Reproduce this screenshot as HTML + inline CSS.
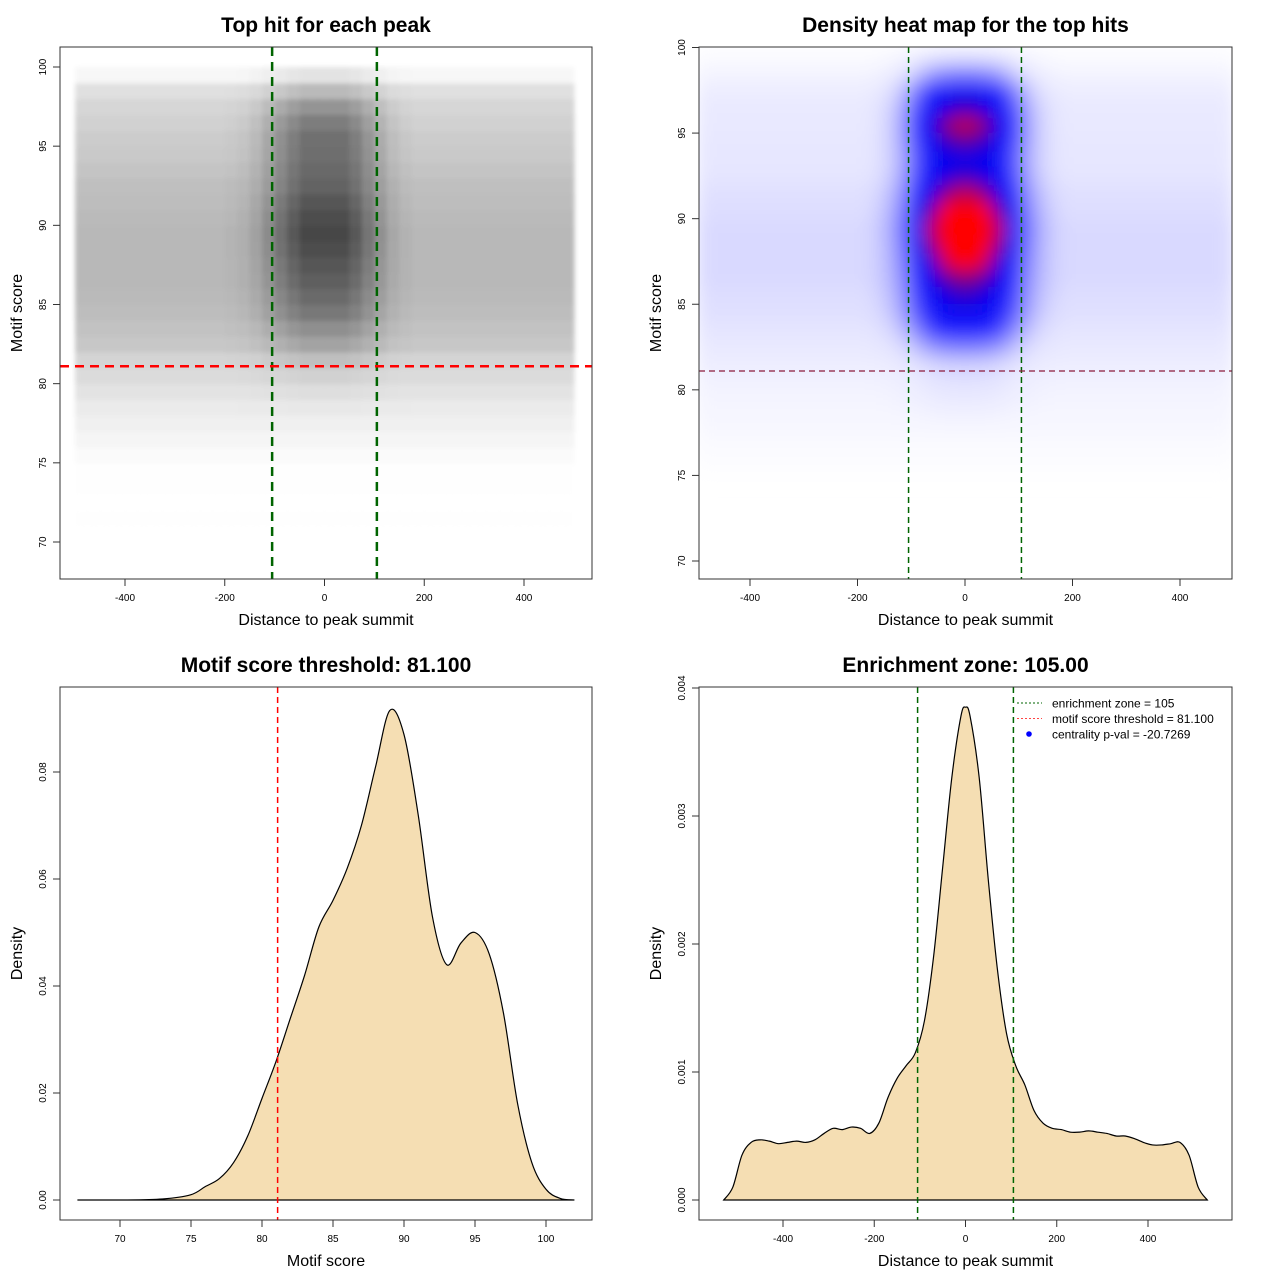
<!DOCTYPE html>
<html><head><meta charset="utf-8">
<style>
html,body{margin:0;padding:0;background:#fff;}
svg{display:block;font-family:"Liberation Sans",Arial,sans-serif;}
</style></head>
<body>
<svg id="root" width="1280" height="1280" viewBox="0 0 1280 1280">
<defs>
<filter id="blur" x="-10%" y="-10%" width="120%" height="120%"><feGaussianBlur stdDeviation="9"/></filter>
<filter id="blur1" x="-5%" y="-5%" width="110%" height="110%"><feGaussianBlur stdDeviation="2.5"/></filter>
<clipPath id="clip2"><rect x="699" y="47" width="533" height="532"/></clipPath>
<clipPath id="clip1"><rect x="60" y="47" width="532" height="532"/></clipPath>
</defs>
</svg>
<script>
// ---------- data ----------
var scoreBins = [70,71,72,73,74,75,76,77,78,79,80,81,82,83,84,85,86,87,88,89,90,91,92,93,94,95,96,97,98,99];
var scatterBg = [0,0.003,0,0.003,0.005,0.02,0.04,0.06,0.08,0.11,0.14,0.17,0.22,0.24,0.26,0.27,0.28,0.28,0.28,0.28,0.27,0.26,0.25,0.23,0.21,0.2,0.18,0.16,0.12,0.03];
var scatterCenter = [0,0,0,0,0,0,0,0,0.01,0.02,0.04,0.08,0.14,0.2,0.27,0.31,0.35,0.38,0.42,0.44,0.43,0.4,0.36,0.36,0.36,0.36,0.33,0.26,0.15,0.08];
var distBins = [-487.5,-462.5,-437.5,-412.5,-387.5,-362.5,-337.5,-312.5,-287.5,-262.5,-237.5,-212.5,-187.5,-162.5,-137.5,-112.5,-87.5,-62.5,-37.5,-12.5,12.5,37.5,62.5,87.5,112.5,137.5,162.5,187.5,212.5,237.5,262.5,287.5,312.5,337.5,362.5,387.5,412.5,437.5,462.5,487.5];
var scatterProfile = [0,0,0,0,0,0,0,0,0,0,0,0,0.03,0.08,0.2,0.4,0.65,0.85,1,1,1,1,0.85,0.6,0.35,0.15,0.05,0,0,0,0,0,0,0,0,0,0,0,0,0];
var heatBg = [0,0,0,0,0.005,0.01,0.02,0.03,0.04,0.05,0.06,0.08,0.1,0.12,0.14,0.15,0.16,0.16,0.16,0.16,0.15,0.14,0.12,0.11,0.11,0.1,0.1,0.08,0.05,0.02];
var heatCenter = [0,0,0,0,0,0,0,0,0.02,0.05,0.07,0.1,0.25,0.45,0.62,0.7,0.76,0.85,0.95,1.0,0.93,0.82,0.74,0.7,0.78,0.86,0.76,0.6,0.3,0.1];
var heatProfile = [0,0,0,0,0,0,0,0,0,0,0,0,0,0.03,0.1,0.25,0.5,0.8,0.95,1,1,0.95,0.8,0.5,0.25,0.1,0.03,0,0,0,0,0,0,0,0,0,0,0,0,0];
var scoreX = [67,70,73,75,76,77,78,79,80,81,82,83,84,85,86,87,88,89,90,91,92,93,94,95,96,97,98,99,100,101,102];
var scoreDens = [0,0,0.0002,0.001,0.0025,0.004,0.007,0.012,0.019,0.026,0.034,0.042,0.051,0.056,0.062,0.07,0.081,0.0915,0.087,0.072,0.053,0.044,0.048,0.05,0.046,0.035,0.018,0.007,0.002,0.0003,0];
var distX = [-530,-510,-490,-470,-450,-430,-410,-390,-370,-350,-330,-310,-290,-270,-250,-230,-210,-190,-170,-150,-130,-110,-90,-70,-50,-30,-10,0,10,30,50,70,90,110,130,150,170,190,210,230,250,270,290,310,330,350,370,390,410,430,450,470,490,510,530];
var distDens = [0,0.1,0.35,0.45,0.47,0.46,0.44,0.45,0.46,0.45,0.47,0.52,0.56,0.55,0.57,0.56,0.52,0.6,0.8,0.95,1.05,1.15,1.4,1.9,2.6,3.3,3.78,3.85,3.78,3.3,2.5,1.8,1.3,1.05,0.9,0.7,0.6,0.56,0.55,0.53,0.53,0.54,0.53,0.52,0.5,0.5,0.48,0.45,0.43,0.43,0.44,0.45,0.35,0.1,0];
var distTicks = [-400,-200,0,200,400];
var scoreTicks = [70,75,80,85,90,95,100];
var dens3Ticks = [0,0.02,0.04,0.06,0.08];
var dens3Labels = ["0.00","0.02","0.04","0.06","0.08"];
var dens4Ticks = [0,0.001,0.002,0.003,0.004];
var dens4Labels = ["0.000","0.001","0.002","0.003","0.004"];
var scoreThreshold = 81.1;
var enrichZone = 105;

var NS = "http://www.w3.org/2000/svg";
var root = document.getElementById('root');
function mk(tag, attrs, parent, txt){
  var e = document.createElementNS(NS, tag);
  for (var k in attrs) e.setAttribute(k, attrs[k]);
  if (txt !== undefined) e.textContent = txt;
  (parent || root).appendChild(e);
  return e;
}
function lin(d0,d1,r0,r1){ return function(v){ return r0 + (v-d0)/(d1-d0)*(r1-r0); }; }

function axes(g, box, xs, ys, xt, xl, yt, yl, xtitle, ytitle, title){
  var t = mk('text',{x:(box.x0+box.x1)/2,y:box.y0-15,'text-anchor':'middle','font-size':'21','font-weight':'bold'},g,title);
   
  var r = mk('rect',{x:box.x0,y:box.y0,width:box.x1-box.x0,height:box.y1-box.y0,fill:'none',stroke:'#333','stroke-width':1},g);
   
  for (var i=0;i<xt.length;i++){
    var px = xs(xt[i]);
    mk('line',{x1:px,x2:px,y1:box.y1,y2:box.y1+7,stroke:'#333'},g);
    var tl = mk('text',{x:px,y:box.y1+22,'text-anchor':'middle','font-size':'10'},g,xl[i]);
     
  }
  for (var j=0;j<yt.length;j++){
    var py = ys(yt[j]);
    mk('line',{x1:box.x0,x2:box.x0-7,y1:py,y2:py,stroke:'#333'},g);
    var yl2 = mk('text',{x:box.x0-14,y:py,'text-anchor':'middle','font-size':'10',transform:'rotate(-90 '+(box.x0-14)+' '+py+')'},g,yl[j]);
     
  }
  var xa = mk('text',{x:(box.x0+box.x1)/2,y:box.y1+46,'text-anchor':'middle','font-size':'16'},g,xtitle);
   
  var yx = box.x0-38, yy=(box.y0+box.y1)/2;
  var ya = mk('text',{x:yx,y:yy,'text-anchor':'middle','font-size':'16',transform:'rotate(-90 '+yx+' '+yy+')'},g,ytitle);
   
}
function strs(a){ return a.map(String); }

// ---------- Panel 1: scatter ----------
(function(){
  var g = mk('g',{});  
  var box={x0:60,x1:592,y0:47,y1:579};
  var xs = lin(-400,400,125,524), ys = lin(70,100,542,67);
  var cl = mk('g',{'clip-path':'url(#clip1)'},g);
  var pts = mk('g',{filter:'url(#blur1)'},cl);
   
  for (var i=0;i<scoreBins.length;i++){
    for (var j=0;j<distBins.length;j++){
      var v = scatterBg[i] + scatterCenter[i]*scatterProfile[j];
      if (v<=0) continue;
      var x0 = xs(distBins[j]-12.5), x1 = xs(distBins[j]+12.5);
      var y0 = ys(scoreBins[i]+1), y1 = ys(scoreBins[i]);
      var gray = Math.round(255*(1-Math.min(0.8,v)));
      var c = mk('rect',{x:x0,y:y0,width:x1-x0+0.6,height:y1-y0+0.6,fill:'rgb('+gray+','+gray+','+gray+')'},pts);
       
    }
  }
  [-enrichZone,enrichZone].forEach(function(v){
    var l = mk('line',{x1:xs(v),x2:xs(v),y1:box.y0,y2:box.y1,stroke:'#006400','stroke-width':2.5,'stroke-dasharray':'9 6'},g);
     
  });
  var h = mk('line',{x1:box.x0,x2:box.x1,y1:ys(scoreThreshold),y2:ys(scoreThreshold),stroke:'#ff0000','stroke-width':2.5,'stroke-dasharray':'9 6'},g);
   
  axes(g,box,xs,ys,distTicks,strs(distTicks),scoreTicks,strs(scoreTicks),'Distance to peak summit','Motif score','Top hit for each peak');
})();

// ---------- Panel 2: heatmap ----------
(function(){
  var g = mk('g',{});  
  var box={x0:699,x1:1232,y0:47,y1:579};
  var xs = lin(-400,400,750,1180), ys = lin(70,100,561,47.5);
  function col(v){
    var stops=[[0,[255,255,255]],[0.15,[222,222,255]],[0.55,[30,30,255]],[0.82,[0,0,240]],[0.9,[90,0,150]],[1,[255,0,0]]];
    v=Math.max(0,Math.min(1,v));
    for (var k=1;k<stops.length;k++){
      if (v<=stops[k][0]){
        var t=(v-stops[k-1][0])/(stops[k][0]-stops[k-1][0]);
        var a=stops[k-1][1], b=stops[k][1];
        return 'rgb('+Math.round(a[0]+(b[0]-a[0])*t)+','+Math.round(a[1]+(b[1]-a[1])*t)+','+Math.round(a[2]+(b[2]-a[2])*t)+')';
      }
    }
    return 'rgb(255,0,0)';
  }
  var cl = mk('g',{'clip-path':'url(#clip2)'},g);
  var hm = mk('g',{filter:'url(#blur)'},cl);
   
  for (var i=0;i<scoreBins.length;i++){
    for (var j=0;j<distBins.length;j++){
      var v = heatBg[i] + heatCenter[i]*heatProfile[j];
      if (v<=0.005) continue;
      var x0 = xs(distBins[j]-12.5), x1 = xs(distBins[j]+12.5);
      var y0 = ys(scoreBins[i]+1), y1 = ys(scoreBins[i]);
      var c = mk('rect',{x:x0,y:y0,width:x1-x0+0.5,height:y1-y0+0.5,fill:col(v)},hm);
       
    }
  }
  [-enrichZone,enrichZone].forEach(function(v){
    var l = mk('line',{x1:xs(v),x2:xs(v),y1:box.y0,y2:box.y1,stroke:'#006400','stroke-width':1.5,'stroke-dasharray':'6 4'},g);
     
  });
  var h = mk('line',{x1:box.x0,x2:box.x1,y1:ys(scoreThreshold),y2:ys(scoreThreshold),stroke:'#8b1a3a','stroke-width':1.2,'stroke-dasharray':'6 4'},g);
   
  axes(g,box,xs,ys,distTicks,strs(distTicks),scoreTicks,strs(scoreTicks),'Distance to peak summit','Motif score','Density heat map for the top hits');
})();

function curvePath(xs, ys, X, Y){
  var p = 'M'+xs(X[0])+','+ys(Y[0]);
  for (var i=0;i<X.length-1;i++){
    var x0=xs(X[Math.max(0,i-1)]),y0=ys(Y[Math.max(0,i-1)]);
    var x1=xs(X[i]),y1=ys(Y[i]),x2=xs(X[i+1]),y2=ys(Y[i+1]);
    var x3=xs(X[Math.min(X.length-1,i+2)]),y3=ys(Y[Math.min(X.length-1,i+2)]);
    p+=' C'+(x1+(x2-x0)/6)+','+(y1+(y2-y0)/6)+' '+(x2-(x3-x1)/6)+','+(y2-(y3-y1)/6)+' '+x2+','+y2;
  }
  return p;
}

// ---------- Panel 3: score density ----------
(function(){
  var g = mk('g',{});  
  var box={x0:60,x1:592,y0:687,y1:1220};
  var xs = lin(70,100,120,546), ys = lin(0,0.08,1200,772);
  var d = curvePath(xs,ys,scoreX,scoreDens);
  var f = mk('path',{d:d+' Z',fill:'#F5DEB3',stroke:'#000','stroke-width':1.2},g);
   
  var l = mk('line',{x1:xs(scoreThreshold),x2:xs(scoreThreshold),y1:box.y0,y2:box.y1,stroke:'#ff0000','stroke-width':1.5,'stroke-dasharray':'6 4'},g);
   
  var st=[70,75,80,85,90,95,100];
  axes(g,box,xs,ys,st,strs(st),dens3Ticks,dens3Labels,'Motif score','Density','Motif score threshold: 81.100');
})();

// ---------- Panel 4: distance density ----------
(function(){
  var g = mk('g',{});  
  var box={x0:699,x1:1232,y0:687,y1:1220};
  var xs = lin(-400,400,783,1148), ys = lin(0,0.004,1200,688);
  var Y = distDens.map(function(v){return v/1000;});
  var d = curvePath(xs,ys,distX,Y);
  var f = mk('path',{d:d+' Z',fill:'#F5DEB3',stroke:'#000','stroke-width':1.2},g);
   
  [-enrichZone,enrichZone].forEach(function(v){
    var l = mk('line',{x1:xs(v),x2:xs(v),y1:box.y0,y2:box.y1,stroke:'#006400','stroke-width':1.5,'stroke-dasharray':'6 4'},g);
     
  });
  axes(g,box,xs,ys,distTicks,strs(distTicks),dens4Ticks,dens4Labels,'Distance to peak summit','Density','Enrichment zone: 105.00');
  var lg = mk('g',{},g);  
  var items=[['enrichment zone = 105','#006400','line'],['motif score threshold = 81.100','#ff4444','line'],['centrality p-val = -20.7269','#0000ff','dot']];
  for (var i=0;i<items.length;i++){
    var y=703+i*15.5;
    var e = mk('g',{},lg);  
    if (items[i][2]==='line') mk('line',{x1:1017,x2:1042,y1:y,y2:y,stroke:items[i][1],'stroke-dasharray':'2 2'},e);
    else mk('circle',{cx:1029,cy:y,r:2.8,fill:items[i][1]},e);
    mk('text',{x:1052,y:y+4.5,'font-size':'12'},e,items[i][0]);
  }
})();
</script>
</body></html>
